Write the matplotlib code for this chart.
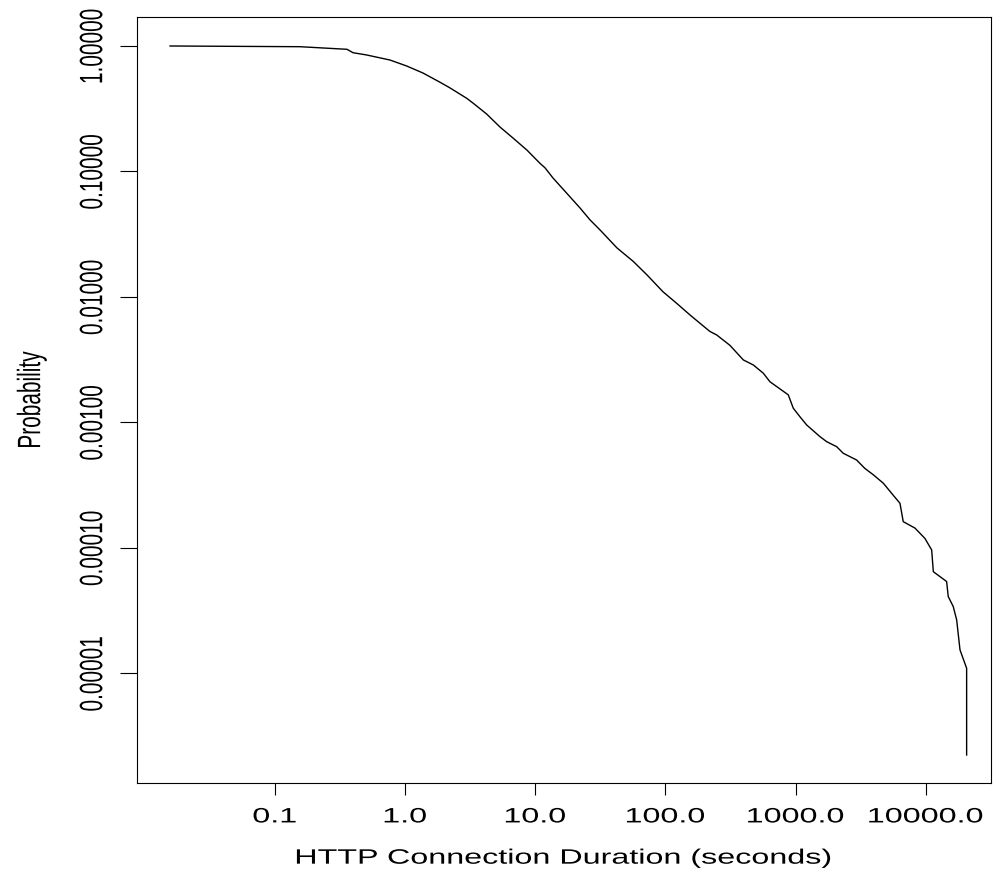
import matplotlib
matplotlib.use("Agg")
import matplotlib.pyplot as plt
from matplotlib.patheffects import AbstractPathEffect
from matplotlib.transforms import Affine2D

# ===============================
# Data
# ===============================
duration = [0.0157, 0.156, 0.359, 0.399, 0.508, 0.767, 1.03, 1.375, 1.86, 2.22,
            2.98, 3.33, 4.24, 5.37, 6.79, 8.65, 10.9, 11.9, 13.7, 17.5,
            22.1, 26.4, 31.5, 42.5, 56.7, 72.2, 95.9, 122, 154.6, 184.5,
            220, 248, 313, 397, 474, 565, 636, 879, 960, 1081,
            1217, 1540, 1733, 2069, 2324, 2617, 2944, 3400, 3953, 4720,
            5626, 6337, 6714, 8260, 9860, 11100, 11430, 14460, 14880, 16260,
            17270, 18320, 20600, 20600]
probability = [1.0, 0.987, 0.941, 0.884, 0.848, 0.773, 0.693, 0.609, 0.514, 0.463,
               0.383, 0.351, 0.287, 0.226, 0.184, 0.148, 0.116, 0.107, 0.0888, 0.0670,
               0.0512, 0.0411, 0.0342, 0.0246, 0.0192, 0.0150, 0.0110, 0.00891, 0.00719, 0.00617,
               0.00531, 0.00498, 0.00412, 0.00315, 0.00287, 0.00247, 0.00211, 0.00166, 0.00130, 0.00111,
               0.000955, 0.000771, 0.000703, 0.000641, 0.000568, 0.000534, 0.000502, 0.000431, 0.000383, 0.000328,
               0.000263, 0.000227, 0.000162, 0.000144, 0.000119, 0.0000964, 0.0000647, 0.0000540, 0.0000410, 0.0000341,
               0.0000267, 0.0000154, 0.0000110, 0.00000224]

x_ticks = [0.1, 1, 10, 100, 1000, 10000]
x_tick_labels = ["0.1", "1.0", "10.0", "100.0", "1000.0", "10000.0"]
y_ticks = [1, 0.1, 0.01, 0.001, 0.0001, 0.00001]
y_tick_labels = ["1.00000", "0.10000", "0.01000", "0.00100", "0.00010", "0.00001"]


# ===============================
# Stretch glyphs (the original is scaled wider than tall)
# ===============================
class Stretch(AbstractPathEffect):
    def __init__(self, sx=1.0, sy=1.0):
        super().__init__()
        self.sx, self.sy = sx, sy

    def draw_path(self, renderer, gc, tpath, affine, rgbFace=None):
        ext = tpath.get_extents()
        cx = (ext.x0 + ext.x1) / 2
        stretch = Affine2D().translate(-cx, 0).scale(self.sx, self.sy).translate(cx, 0)
        renderer.draw_path(gc, tpath, stretch + affine, rgbFace)


WIDE = 1.55
plt.rcParams["font.family"] = ["Liberation Sans", "DejaVu Sans"]
plt.rcParams["font.size"] = 15

fig = plt.figure(figsize=(9.96, 8.75), dpi=100)
ax = fig.add_axes([137 / 996, 1 - 783 / 875, (991 - 137) / 996, (783 - 17) / 875])

ax.plot(duration, probability, color="black", linewidth=1.0)

ax.set_xscale("log")
ax.set_yscale("log")
ax.set_xlim(10 ** -2.058, 10 ** 4.501)
ax.set_ylim(10 ** -5.873, 10 ** 0.231)

ax.set_xticks(x_ticks, labels=x_tick_labels)
ax.set_yticks(y_ticks, labels=y_tick_labels, rotation=90, va="center")
ax.minorticks_off()

ax.tick_params(axis="x", length=8.6, width=0.8, pad=9)
ax.tick_params(axis="y", length=12.2, width=0.8, pad=10)
for s in ax.spines.values():
    s.set_linewidth(0.8)

for lab in ax.get_xticklabels():
    lab.set_path_effects([Stretch(WIDE, 1.0)])
for lab in ax.get_yticklabels():
    lab.set_path_effects([Stretch(1.0, WIDE)])

xl = ax.set_xlabel("HTTP Connection Duration (seconds)", labelpad=16)
xl.set_path_effects([Stretch(WIDE, 1.0)])
yl = ax.set_ylabel("Probability", labelpad=31)
yl.set_path_effects([Stretch(1.0, WIDE)])

fig.savefig("out.png", dpi=100)
